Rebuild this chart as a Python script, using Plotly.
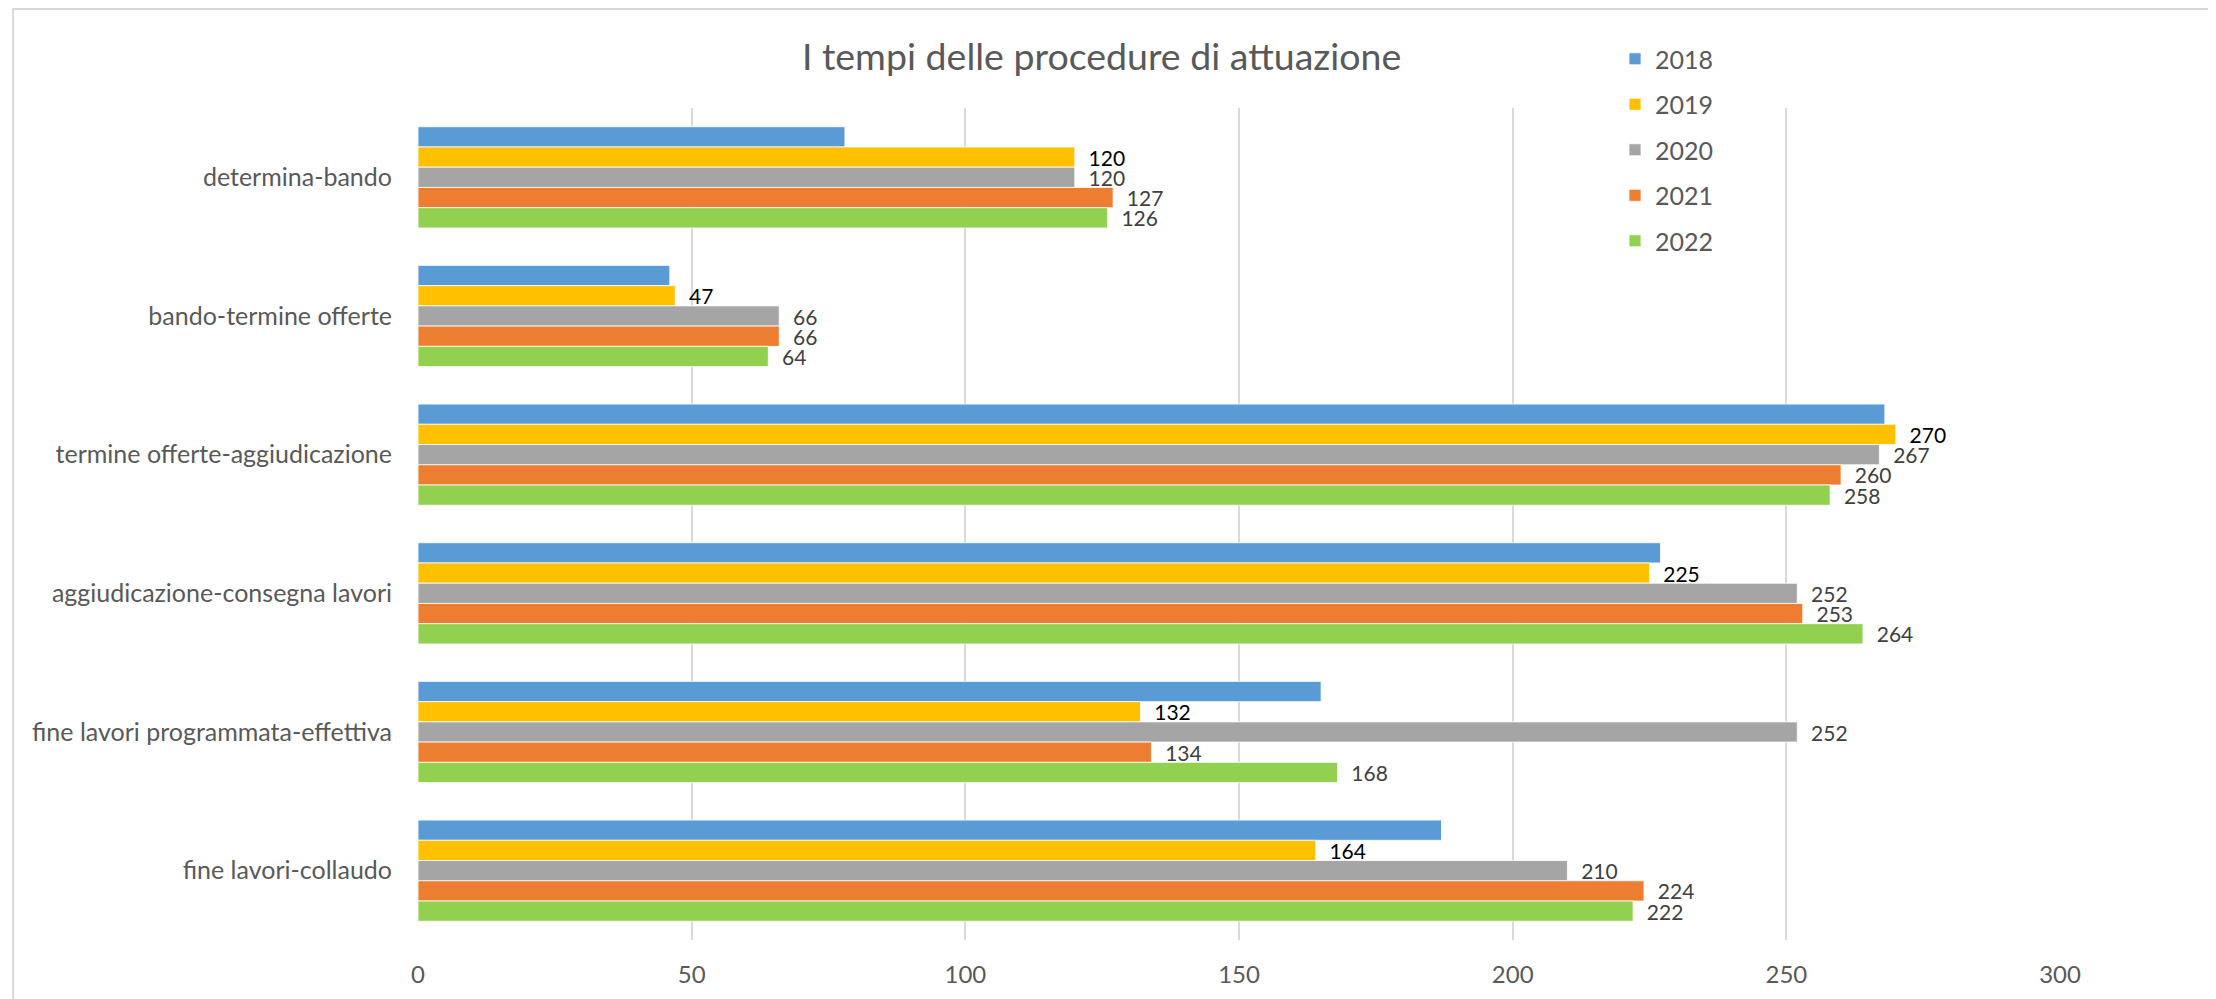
import plotly.graph_objects as go

categories = [
    "determina-bando",
    "bando-termine offerte",
    "termine offerte-aggiudicazione",
    "aggiudicazione-consegna lavori",
    "fine lavori programmata-effettiva",
    "fine lavori-collaudo",
]
years = ["2018", "2019", "2020", "2021", "2022"]
v2018 = [78, 46, 268, 227, 165, 187]
v2019 = [120, 47, 270, 225, 132, 164]
v2020 = [120, 66, 267, 252, 252, 210]
v2021 = [127, 66, 260, 253, 134, 224]
v2022 = [126, 64, 258, 264, 168, 222]
x_ticks = [0, 50, 100, 150, 200, 250, 300]

series = [v2018, v2019, v2020, v2021, v2022]
colors = ["#5B9BD5", "#FFC000", "#A5A5A5", "#ED7D31", "#92D050"]
show_labels = [False, True, True, True, True]
label_colors = ["#404040", "#000000", "#404040", "#404040", "#404040"]

FONT = "Lato"
fig = go.Figure()
for name, vals, col, lab, lcol in zip(years, series, colors, show_labels, label_colors):
    fig.add_trace(go.Bar(
        name=name, y=categories, x=vals, orientation="h", legendgroup=name,
        marker=dict(color=col, line=dict(color="rgba(255,255,255,0.8)", width=1)),
        texttemplate="  %{x}" if lab else None,
        text=vals if lab else None,
        textposition="outside" if lab else "none",
        constraintext="none",
        textfont=dict(family=FONT, size=21, color=lcol),
        cliponaxis=False,
    ))

fig.update_layout(
    width=2216, height=999,
    paper_bgcolor="white", plot_bgcolor="white",
    margin=dict(l=410, r=164, t=100, b=67),
    barmode="group", bargap=0.27, bargroupgap=0,
    font=dict(family=FONT, color="#595959"),
    title=dict(text="I tempi delle procedure di attuazione", x=0.4935, xanchor="center",
               y=0.951, yanchor="middle", yref="container",
               font=dict(family=FONT, size=37.5, color="#595959")),
    legend=dict(x=0.729, y=1.0865, xanchor="left", yanchor="top",
                font=dict(family=FONT, size=25, color="#595959"),
                bgcolor="rgba(0,0,0,0)", itemwidth=30, tracegroupgap=10),
    showlegend=True,
)
fig.update_xaxes(range=[0, 300], tickvals=x_ticks, showgrid=True, gridcolor="#D9D9D9",
                 gridwidth=2, zeroline=False, showline=False,
                 tickfont=dict(family=FONT, size=24, color="#595959"),
                 ticklabelstandoff=18)
fig.update_yaxes(autorange="reversed", showgrid=False, zeroline=False, showline=False,
                 tickfont=dict(family=FONT, size=25, color="#595959"),
                 ticklabelstandoff=25)
fig.add_shape(type="rect", xref="paper", yref="paper",
              x0=-0.2466, x1=1.3, y0=-0.3, y1=1.119,
              line=dict(color="#D9D9D9", width=2), fillcolor="rgba(0,0,0,0)", layer="below")

fig.write_html("out.html")
